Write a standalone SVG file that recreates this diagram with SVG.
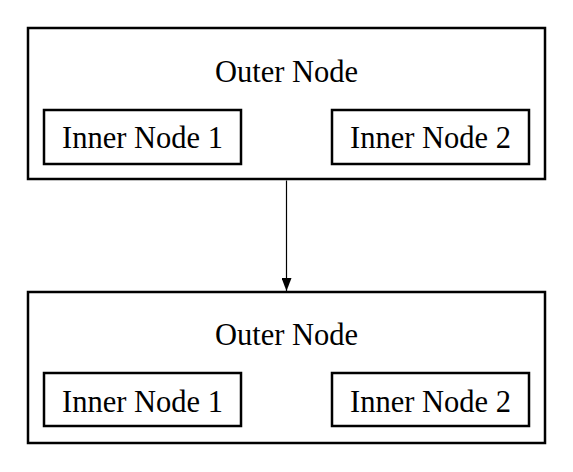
<svg xmlns="http://www.w3.org/2000/svg" width="573" height="472" viewBox="0 0 573 472">
<style>
.box{fill:#fff;stroke:#000;stroke-width:2.5}
.t{font-family:"Liberation Serif","DejaVu Serif",serif;font-size:30.5px;fill:#000;text-anchor:middle}
.edge{stroke:#000;stroke-width:1.2;fill:none}
</style>
<defs>
<marker id="ah" markerWidth="13" markerHeight="10" refX="13" refY="5" orient="auto" markerUnits="userSpaceOnUse" viewBox="0 0 13 10">
<path d="M0,0 L13,5 L0,10 Z" fill="#000"/>
</marker>
</defs>
<g id="outer1">
<rect class="box" x="28" y="28" width="517" height="151"/>
<text class="t" x="286.5" y="82">Outer Node</text>
<g id="inner1a"><rect class="box" x="44" y="110" width="197" height="54"/><text class="t" x="142.5" y="148">Inner Node 1</text></g>
<g id="inner2a"><rect class="box" x="332" y="110" width="197" height="54"/><text class="t" x="430.5" y="148">Inner Node 2</text></g>
</g>
<g id="outer2">
<rect class="box" x="28" y="292" width="517" height="151"/>
<text class="t" x="286.5" y="345">Outer Node</text>
<g id="inner1b"><rect class="box" x="44" y="373" width="197" height="53"/><text class="t" x="142.5" y="411.5">Inner Node 1</text></g>
<g id="inner2b"><rect class="box" x="332" y="373" width="197" height="53"/><text class="t" x="430.5" y="411.5">Inner Node 2</text></g>
</g>
<g id="connectors">
<line class="edge" x1="286.5" y1="180.5" x2="286.5" y2="291" marker-end="url(#ah)"/>
</g>
</svg>
